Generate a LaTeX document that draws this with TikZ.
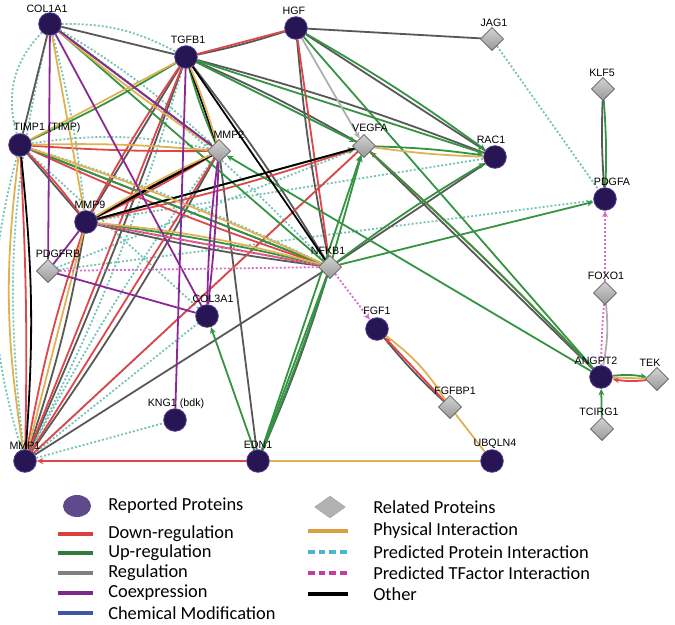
\documentclass[tikz,border=0pt]{standalone}
\usepackage{fontspec}
\setmainfont{Liberation Sans}
\newfontfamily\legfont{Carlito}
\usetikzlibrary{shapes.geometric,arrows.meta}
\pgfdeclarelayer{edges}
\pgfsetlayers{edges,main}
\definecolor{cdn}{RGB}{222,70,74}
\definecolor{cup}{RGB}{52,148,66}
\definecolor{creg}{RGB}{88,88,88}
\definecolor{cco}{RGB}{140,40,150}
\definecolor{cph}{RGB}{224,178,84}
\definecolor{cpp}{RGB}{120,195,182}
\definecolor{ctf}{RGB}{215,110,200}
\definecolor{clg}{RGB}{175,175,175}
\definecolor{cnode}{RGB}{40,22,84}
\definecolor{cnodeb}{RGB}{85,60,140}
\definecolor{ldn}{RGB}{217,64,64}
\definecolor{lup}{RGB}{46,125,62}
\definecolor{lreg}{RGB}{128,128,128}
\definecolor{lco}{RGB}{125,40,140}
\definecolor{lcm}{RGB}{62,84,166}
\definecolor{lph}{RGB}{216,160,64}
\definecolor{lpp}{RGB}{75,184,200}
\definecolor{ltf}{RGB}{195,60,160}
\definecolor{lrp}{RGB}{95,75,140}
\tikzset{
 rp/.style={circle,minimum size=17pt,inner sep=0,fill=cnode,draw=cnodeb,line width=0.6pt},
 rl/.style={diamond,minimum width=17.5pt,minimum height=17.5pt,inner sep=0,top color=gray!35,bottom color=gray!80,draw=gray!55!black,line width=0.4pt},
 lab/.style={font=\fontsize{8}{9}\selectfont,inner sep=0},
 ed/.style={line width=1.35pt},
 edn/.style={ed,draw=cdn},
 eup/.style={ed,draw=cup},
 ereg/.style={ed,draw=creg},
 eco/.style={ed,draw=cco},
 eph/.style={ed,draw=cph},
 epp/.style={ed,draw=cpp,dash pattern=on 1.5pt off 1.5pt},
 etf/.style={ed,draw=ctf,dash pattern=on 1.5pt off 1.5pt},
 eot/.style={ed,draw=black},
 elg/.style={ed,draw=clg},
 arr/.style={-{Stealth[length=5pt,width=4.5pt]}},
 leg/.style={font=\legfont\fontsize{13.8}{16}\selectfont,anchor=west,inner sep=0},
 legl/.style={line width=2.6pt},
}
\begin{document}
\begin{tikzpicture}[x=0.75pt,y=-0.75pt]
\useasboundingbox (0,0) rectangle (675,625);
% nodes
\node[rp] (col1) at (50,24) {};
\node[rp] (tgfb) at (186,57) {};
\node[rp] (hgf) at (296,28) {};
\node[rl] (jag) at (492,39) {};
\node[rl] (klf) at (603,89) {};
\node[rp] (timp) at (20,145) {};
\node[rl] (mmp2) at (219,151) {};
\node[rl] (vegfa) at (364,146) {};
\node[rp] (rac) at (495,157) {};
\node[rp] (pdgfa) at (605,199) {};
\node[rp] (mmp9) at (86,222) {};
\node[rl] (pdgfrb) at (48,271) {};
\node[rl] (nfkb) at (330,267) {};
\node[rp] (col3) at (207,316) {};
\node[rp] (fgf1) at (377,329) {};
\node[rl] (foxo) at (605,293) {};
\node[rp] (angpt) at (601,377) {};
\node[rl] (tek) at (657,379) {};
\node[rl] (fgfbp) at (450,407) {};
\node[rp] (kng) at (175,420) {};
\node[rl] (tcirg) at (602,429) {};
\node[rp] (mmp1) at (25,461) {};
\node[rp] (edn) at (258,461) {};
\node[rp] (ubq) at (492,461) {};
% labels
\node[lab] (col1-l) at (47,9) {COL1A1};
\node[lab] (tgfb-l) at (188,40) {TGFB1};
\node[lab] (hgf-l) at (294,11) {HGF};
\node[lab] (jag-l) at (494,23) {JAG1};
\node[lab] (klf-l) at (602,73) {KLF5};
\node[lab] (timp-l) at (47,128) {TIMP1 (TIMP)};
\node[lab] (mmp2-l) at (229,135) {MMP2};
\node[lab] (vegfa-l) at (370,128) {VEGFA};
\node[lab] (rac-l) at (491,140) {RAC1};
\node[lab] (pdgfa-l) at (612,182) {PDGFA};
\node[lab] (mmp9-l) at (90,205) {MMP9};
\node[lab] (pdgfrb-l) at (58,254) {PDGFRB};
\node[lab] (nfkb-l) at (328,251) {NFKB1};
\node[lab] (col3-l) at (213,299) {COL3A1};
\node[lab] (fgf1-l) at (377,311) {FGF1};
\node[lab] (foxo-l) at (606,276) {FOXO1};
\node[lab] (angpt-l) at (596,361) {ANGPT2};
\node[lab] (tek-l) at (650,363) {TEK};
\node[lab] (fgfbp-l) at (455,391) {FGFBP1};
\node[lab] (kng-l) at (176,404) {KNG1 (bdk)};
\node[lab] (tcirg-l) at (599,412) {TCIRG1};
\node[lab] (mmp1-l) at (25,446) {MMP1};
\node[lab] (edn-l) at (258,445) {EDN1};
\node[lab] (ubq-l) at (495,444) {UBQLN4};
\begin{pgfonlayer}{edges}
% predicted protein interaction
\draw[epp] (col1) to[bend left=14] (tgfb);
\draw[epp] (col1) to[bend right=30] (timp);
\draw[epp] (col1) to[bend right=10] (mmp1);
\draw[epp] (timp) to[bend right=16] (mmp1);
\draw[epp] (col1) to[bend left=4] (mmp9);
\draw[epp] (col1) to[bend left=6] (mmp2);
\draw[epp] (col1) to[bend left=5] (nfkb);
\draw[epp] (timp) to[bend left=10] (mmp2);
\draw[epp] (timp) -- (col3);
\draw[epp] (timp) to[bend left=4] (nfkb);
\draw[epp] (mmp1) -- (col3);
\draw[epp] (mmp1) -- (kng);
\draw[epp] (mmp1) to[bend left=4] (mmp2);
\draw[epp] (mmp1) -- (vegfa);
\draw[epp] (mmp9) -- (rac);
\draw[epp] (pdgfrb) -- (pdgfa);
\draw[epp] (pdgfrb) -- (vegfa);
\draw[epp] (jag) -- (pdgfa);
\draw[epp] (tgfb) to[bend left=5] (mmp1);
% regulation
\draw[ereg] (col1) -- (tgfb);
\draw[ereg] (col1) -- (timp);
\draw[ereg] (tgfb) to[bend right=3] (hgf);
\draw[ereg] (hgf) -- (jag);
\draw[ereg] (hgf) -- (rac);
\draw[ereg] (hgf) to[bend right=3] (nfkb);
\draw[ereg] (tgfb) -- (mmp9);
\draw[ereg] (tgfb) to[bend left=2] (mmp1);
\draw[ereg] (tgfb) to[bend left=3] (vegfa);
\draw[ereg] (tgfb) to[bend left=3] (rac);
\draw[ereg] (tgfb) to[bend left=3] (nfkb);
\draw[ereg] (timp) -- (mmp9);
\draw[ereg] (timp) -- (nfkb);
\draw[ereg] (mmp2) to[bend left=3] (mmp1);
\draw[ereg] (mmp2) -- (edn);
\draw[ereg] (mmp9) to[bend left=4] (mmp1);
\draw[ereg] (mmp9) to[bend right=3] (nfkb);
\draw[ereg] (nfkb) -- (mmp1);
\draw[ereg] (nfkb) to[bend left=3] (edn);
\draw[ereg] (nfkb) -- (rac);
\draw[ereg] (vegfa) -- (angpt);
\draw[ereg] (klf) to[bend right=3] (pdgfa);
\draw[ereg] (fgf1) to[bend right=4] (fgfbp);
% down-regulation
\draw[edn] (tgfb) -- (hgf);
\draw[edn] (tgfb) to[bend right=3] (mmp9);
\draw[edn] (tgfb) -- (mmp1);
\draw[edn] (hgf) -- (nfkb);
\draw[edn] (timp) to[bend right=2] (mmp2);
\draw[edn] (timp) to[bend left=4] (mmp9);
\draw[edn] (timp) to[bend left=2] (mmp1);
\draw[edn] (mmp9) to[bend right=3] (mmp2);
\draw[edn,arr] (mmp9) to[bend right=3] (vegfa);
\draw[edn] (mmp9) -- (nfkb);
\draw[edn] (mmp2) -- (mmp1);
\draw[edn] (mmp1) -- (vegfa);
\draw[edn,arr] (edn) -- (mmp1);
\draw[edn,arr] (angpt) to[bend right=2] (vegfa);
\draw[edn,arr] (tek) to[bend left=8] (angpt);
\draw[edn,arr] (fgfbp) -- (fgf1);
\draw[edn] (mmp9) to[bend right=4] (mmp1);
\draw[edn] (timp) to[bend right=3] (nfkb);
% up-regulation
\draw[eup,arr] (col1) -- (mmp2);
\draw[eup] (col1) -- (nfkb);
\draw[eup] (tgfb) to[bend left=3] (timp);
\draw[eup] (tgfb) to[bend right=4] (mmp2);
\draw[eup,arr] (tgfb) -- (vegfa);
\draw[eup,arr] (tgfb) -- (rac);
\draw[eup,arr] (hgf) to[bend left=3] (rac);
\draw[eup] (hgf) -- (angpt);
\draw[eup] (timp) -- (nfkb);
\draw[eup,arr] (mmp9) -- (vegfa);
\draw[eup] (mmp9) to[bend left=3] (nfkb);
\draw[eup,arr] (nfkb) -- (vegfa);
\draw[eup,arr] (nfkb) -- (pdgfa);
\draw[eup,arr] (nfkb) to[bend left=3] (rac);
\draw[eup,arr] (edn) -- (vegfa);
\draw[eup] (edn) -- (nfkb);
\draw[eup] (edn) to[bend right=2] (nfkb);
\draw[eup,arr] (edn) -- (col3);
\draw[eup,arr] (vegfa) to[bend left=3] (rac);
\draw[eup] (vegfa) to[bend left=2] (angpt);
\draw[eup,arr] (angpt) -- (mmp2);
\draw[eup,arr] (angpt) to[bend left=8] (tek);
\draw[eup,arr] (tcirg) -- (angpt);
\draw[eup,arr] (klf) to[bend left=3] (pdgfa);
% other
\draw[eot] (vegfa) -- (mmp9);
\draw[eot,line width=2pt] (mmp2) -- (mmp9);
\draw[eot] (tgfb) -- (nfkb);
\draw[eot] (tgfb) -- (mmp2);
\draw[eot] (timp) to[bend left=5] (mmp1);
% physical interaction
\draw[eph] (col1) to[bend right=3] (mmp2);
\draw[eph] (col1) -- (mmp9);
\draw[eph] (tgfb) -- (timp);
\draw[eph] (tgfb) to[bend left=3] (mmp2);
\draw[eph] (timp) to[bend left=3] (mmp2);
\draw[eph] (timp) to[bend right=8] (mmp1);
\draw[eph] (mmp9) to[bend left=3] (mmp2);
\draw[eph] (mmp9) to[bend left=5] (nfkb);
\draw[eph] (mmp9) -- (mmp1);
\draw[eph] (timp) to[bend left=3] (nfkb);
\draw[eph] (vegfa) to[bend right=3] (rac);
\draw[eph] (angpt) -- (tek);
\draw[eph] (fgf1) to[bend left=10] (fgfbp);
\draw[eph] (fgfbp) -- (ubq);
\draw[eph] (edn) -- (ubq);
% coexpression
\draw[eco] (col1) -- (mmp2);
\draw[eco] (col1) -- (col3);
\draw[eco] (col1) -- (pdgfrb);
\draw[eco] (tgfb) -- (kng);
\draw[eco] (mmp2) to[bend left=2] (col3);
\draw[eco] (mmp2) to[bend right=3] (col3);
\draw[eco] (mmp9) -- (pdgfrb);
\draw[eco] (pdgfrb) -- (col3);
% predicted TF
\draw[etf] (pdgfrb) -- (nfkb);
\draw[etf] (mmp9) -- (nfkb);
\draw[etf,arr] (nfkb) -- (fgf1);
\draw[etf,arr] (foxo) -- (pdgfa);
\draw[etf] (foxo) to[bend right=2] (angpt);
% light grey
\draw[elg,arr] (hgf) -- (vegfa);
\draw[elg] (foxo) to[bend left=8] (angpt);
\end{pgfonlayer}
% legend
\node[ellipse,minimum width=21pt,minimum height=16.5pt,inner sep=0,fill=lrp] (lg-rp) at (77,506) {};
\node[leg] (lg-rpt) at (108,506) {Reported Proteins};
\coordinate (a1) at (58,534); \coordinate (b1) at (93,534);
\coordinate (a2) at (58,553); \coordinate (b2) at (93,553);
\coordinate (a3) at (58,573); \coordinate (b3) at (93,573);
\coordinate (a4) at (58,593); \coordinate (b4) at (93,593);
\coordinate (a5) at (58,613); \coordinate (b5) at (93,613);
\draw[legl,ldn] (a1) -- (b1);
\draw[legl,lup] (a2) -- (b2);
\draw[legl,lreg] (a3) -- (b3);
\draw[legl,lco] (a4) -- (b4);
\draw[legl,lcm] (a5) -- (b5);
\node[leg] (lg-dn) at (108,534) {Down-regulation};
\node[leg] (lg-up) at (108,553) {Up-regulation};
\node[leg] (lg-reg) at (108,573) {Regulation};
\node[leg] (lg-co) at (108,593) {Coexpression};
\node[leg] (lg-cm) at (108,613) {Chemical Modification};
\node[diamond,minimum width=23pt,minimum height=16.5pt,inner sep=0,fill=gray!60,draw=gray!70] (lg-rl) at (330,507) {};
\node[leg] (lg-rlt) at (373,507) {Related Proteins};
\coordinate (c1) at (308,531); \coordinate (d1) at (348,531);
\coordinate (c2) at (308,552); \coordinate (d2) at (348,552);
\coordinate (c3) at (308,573); \coordinate (d3) at (348,573);
\coordinate (c4) at (308,594); \coordinate (d4) at (348,594);
\draw[legl,lph] (c1) -- (d1);
\draw[legl,lpp,dash pattern=on 5pt off 3pt] (c2) -- (d2);
\draw[legl,ltf,dash pattern=on 5pt off 3pt] (c3) -- (d3);
\draw[legl,black] (c4) -- (d4);
\node[leg] (lg-ph) at (373,531) {Physical Interaction};
\node[leg] (lg-pp) at (373,552) {Predicted Protein Interaction};
\node[leg] (lg-tf) at (373,573) {Predicted TFactor Interaction};
\node[leg] (lg-ot) at (373,594) {Other};
\end{tikzpicture}
\end{document}
